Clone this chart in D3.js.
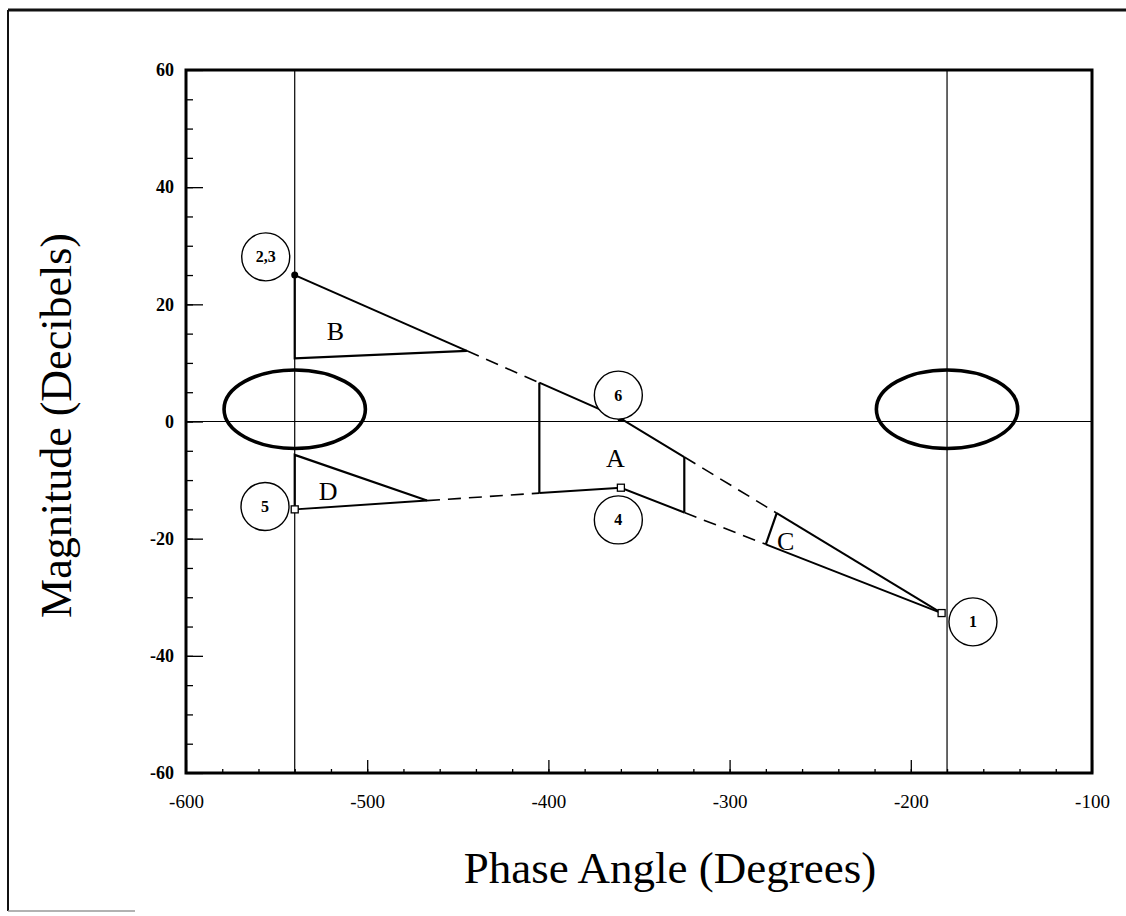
<!DOCTYPE html>
<html>
<head>
<meta charset="utf-8">
<script src="https://cdn.jsdelivr.net/npm/d3@7"></script>
<style>
  html, body { margin: 0; padding: 0; background: #fff; }
  svg { display: block; }
  text { font-family: "Liberation Serif", "Times New Roman", serif; fill: #000; }
</style>
</head>
<body>
<svg id="chart" width="1126" height="916"></svg>
<script>
// Nichols-style plot: phase angle (degrees) vs magnitude (decibels)

// Axis ticks
const xMajorTicks = [-600, -500, -400, -300, -200, -100];
const xMinorTicks = d3.range(-580, -100, 20);
const yMajorTicks = [-60, -40, -20, 0, 20, 40, 60];
const yMinorTicks = d3.range(-55, 60, 5);

// Reference lines
const phaseLines = [-540, -180];
const magLines = [0];

// Forbidden-region contours around the critical points
const contourCentres = [[-540, 2.1], [-180, 2.1]];
const contourHalfPhase = 39;
const contourHalfMag = 6.7;

// Locus points [phase, magnitude]
const upperLocus = [[-540, 25], [-360, 0.5], [-183, -32.7]];   // 2,3 -> 6 -> 1
const lowerLocus = [[-540, -15], [-360, -11.3], [-183, -32.7]]; // 5 -> 4 -> 1

// Phase spans drawn solid / dashed on each locus
const upperSolid = [[-540, -445], [-405, -325], [-274, -183]];
const upperDashed = [[-445, -405], [-325, -274]];
const lowerSolid = [[-540, -467], [-405, -325], [-280, -183]];
const lowerDashed = [[-467, -405], [-325, -280]];

// Region boundaries: B and D edges leave the -540 line at these magnitudes
const regionBEdge = [-540, 10.8, -445];
const regionDEdge = [-540, -5.7, -467];
const regionAPhases = [-405, -325];
const regionCPhases = [-274, -280];

// Region letters [label, phase, magnitude]
const regionLabels = [["B", -517.5, 15.3], ["D", -521.5, -12], ["A", -363, -6.3], ["C", -269, -20.5]];

// Point markers [id, phase, magnitude, style]
const pointMarkers = [["2,3", -540, 25, "dot"], ["6", -360, 0.5, "dot"], ["4", -360, -11.3, "square"], ["5", -540, -15, "square"], ["1", -183, -32.7, "square"]];
// Circled point identifiers [text, phase, magnitude]
const pointTags = [["2,3", -556, 28.1], ["5", -556.4, -14.5], ["6", -361.4, 4.5], ["4", -361.4, -16.8], ["1", -165.7, -34.2]];

const svg = d3.select("#chart");
const plot = { left: 186, right: 1092, top: 70, bottom: 773 };

const x = d3.scaleLinear().domain([-600, -100]).range([plot.left, plot.right]);
const y = d3.scaleLinear().domain([-60, 60]).range([plot.bottom, plot.top]);

// magnitude of a locus polyline at a given phase
function magAt(locus, phase) {
  for (let i = 0; i < locus.length - 1; i++) {
    const [p0, m0] = locus[i], [p1, m1] = locus[i + 1];
    if (phase >= p0 && phase <= p1) return m0 + (m1 - m0) * (phase - p0) / (p1 - p0);
  }
  return locus[locus.length - 1][1];
}
function spanPoints(locus, span) {
  const pts = [[span[0], magAt(locus, span[0])]];
  locus.forEach(d => { if (d[0] > span[0] && d[0] < span[1]) pts.push(d); });
  pts.push([span[1], magAt(locus, span[1])]);
  return pts;
}
const line = d3.line().x(d => x(d[0])).y(d => y(d[1]));

// Page frame
const frame = svg.append("g").attr("fill", "none").attr("stroke", "#111");
frame.append("line").attr("x1", 8).attr("y1", 10).attr("x2", 1126).attr("y2", 10).attr("stroke-width", 3);
frame.append("line").attr("x1", 8).attr("y1", 10).attr("x2", 8).attr("y2", 911).attr("stroke-width", 2);
frame.append("line").attr("x1", 8).attr("y1", 911).attr("x2", 135).attr("y2", 911).attr("stroke-width", 1.5).attr("stroke", "#999");

// Reference lines
const grid = svg.append("g").attr("stroke", "#000").attr("stroke-width", 1.2);
grid.selectAll(".vl").data(phaseLines).join("line")
  .attr("x1", d => x(d)).attr("x2", d => x(d)).attr("y1", y(60)).attr("y2", y(-60));
grid.selectAll(".hl").data(magLines).join("line")
  .attr("x1", x(-600)).attr("x2", x(-100)).attr("y1", d => y(d)).attr("y2", d => y(d));

// Axes (ticks point into the plot)
const fmt = d => String(d);
const yMinor = svg.append("g").attr("transform", `translate(${plot.left},0)`)
  .call(d3.axisLeft(y).tickValues(yMinorTicks).tickSize(-7).tickFormat(""));
const yMajor = svg.append("g").attr("transform", `translate(${plot.left},0)`)
  .call(d3.axisLeft(y).tickValues(yMajorTicks).tickSize(-17).tickPadding(12).tickFormat(fmt));
const xMinor = svg.append("g").attr("transform", `translate(0,${plot.bottom})`)
  .call(d3.axisBottom(x).tickValues(xMinorTicks).tickSize(-4).tickFormat(""));
const xMajor = svg.append("g").attr("transform", `translate(0,${plot.bottom})`)
  .call(d3.axisBottom(x).tickValues(xMajorTicks).tickSize(-13).tickPadding(22).tickFormat(fmt));
[yMinor, yMajor, xMinor, xMajor].forEach(g => {
  g.select(".domain").remove();
  g.selectAll("line").attr("stroke", "#000").attr("stroke-width", 1.3);
});
yMajor.selectAll("text").attr("font-size", 18).attr("font-weight", "bold").attr("font-family", "Liberation Serif");
xMajor.selectAll("text").attr("font-size", 19).attr("font-family", "Liberation Serif");

// Plot border
svg.append("rect")
  .attr("x", plot.left).attr("y", plot.top)
  .attr("width", plot.right - plot.left).attr("height", plot.bottom - plot.top)
  .attr("fill", "none").attr("stroke", "#000").attr("stroke-width", 3);

// Contours
svg.append("g").selectAll("ellipse").data(contourCentres).join("ellipse")
  .attr("cx", d => x(d[0])).attr("cy", d => y(d[1]))
  .attr("rx", x(-600 + contourHalfPhase) - x(-600))
  .attr("ry", y(0) - y(contourHalfMag))
  .attr("fill", "none").attr("stroke", "#000").attr("stroke-width", 3.6);

// Loci
const loci = svg.append("g").attr("fill", "none").attr("stroke", "#000");
[[upperLocus, upperSolid, false], [upperLocus, upperDashed, true],
 [lowerLocus, lowerSolid, false], [lowerLocus, lowerDashed, true]].forEach(([locus, spans, dashed]) => {
  spans.forEach(s => {
    loci.append("path").attr("d", line(spanPoints(locus, s)))
      .attr("stroke-dasharray", dashed ? "13,8" : null)
      .attr("stroke-width", dashed ? 1.6 : 2);
  });
});

// Region boundaries
const edges = svg.append("g").attr("fill", "none").attr("stroke", "#000").attr("stroke-width", 2.2);
edges.append("path").attr("d", line([[regionBEdge[0], magAt(upperLocus, -540)], [regionBEdge[0], regionBEdge[1]], [regionBEdge[2], magAt(upperLocus, regionBEdge[2])]]));
edges.append("path").attr("d", line([[regionDEdge[0], magAt(lowerLocus, -540)], [regionDEdge[0], regionDEdge[1]], [regionDEdge[2], magAt(lowerLocus, regionDEdge[2])]]));
regionAPhases.forEach(p => edges.append("path").attr("d", line([[p, magAt(upperLocus, p)], [p, magAt(lowerLocus, p)]])));
edges.append("path").attr("d", line([[regionCPhases[0], magAt(upperLocus, regionCPhases[0])], [regionCPhases[1], magAt(lowerLocus, regionCPhases[1])]]));

// Region letters
svg.append("g").selectAll("text").data(regionLabels).join("text")
  .attr("x", d => x(d[1])).attr("y", d => y(d[2]))
  .attr("text-anchor", "middle").attr("dominant-baseline", "central")
  .attr("font-size", 26).text(d => d[0]);

// Point markers
const marks = svg.append("g");
marks.selectAll("circle").data(pointMarkers.filter(d => d[3] === "dot")).join("circle")
  .attr("cx", d => x(d[1])).attr("cy", d => y(d[2])).attr("r", 3.5)
  .attr("fill", "#000");
marks.selectAll("rect").data(pointMarkers.filter(d => d[3] === "square")).join("rect")
  .attr("x", d => x(d[1]) - 3.5).attr("y", d => y(d[2]) - 3.5)
  .attr("width", 7).attr("height", 7)
  .attr("fill", "#fff").attr("stroke", "#000").attr("stroke-width", 1.3);

// Circled identifiers
const tags = svg.append("g").selectAll("g").data(pointTags).join("g")
  .attr("transform", d => `translate(${x(d[1])},${y(d[2])})`);
tags.append("circle").attr("r", 24).attr("fill", "#fff").attr("stroke", "#000").attr("stroke-width", 1.4);
tags.append("text").attr("text-anchor", "middle").attr("dominant-baseline", "central")
  .attr("font-size", 16).attr("font-weight", "bold").text(d => d[0]);

// Axis titles
svg.append("text")
  .attr("transform", `translate(56,${(plot.top + plot.bottom) / 2 + 4}) rotate(-90)`)
  .attr("text-anchor", "middle").attr("dominant-baseline", "central")
  .attr("font-size", 44).text("Magnitude (Decibels)");
svg.append("text")
  .attr("x", 670).attr("y", 883)
  .attr("text-anchor", "middle")
  .attr("font-size", 45).text("Phase Angle (Degrees)");
</script>
</body>
</html>
